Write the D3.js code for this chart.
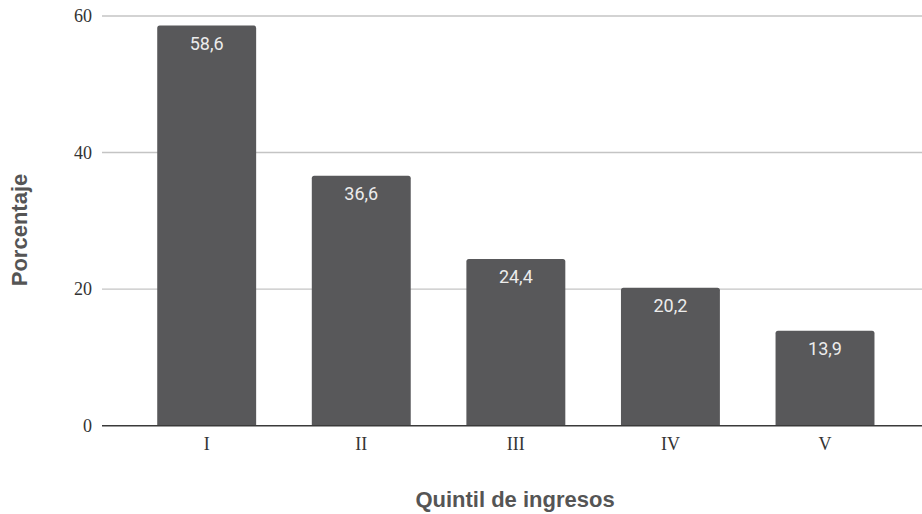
<!DOCTYPE html>
<html>
<head>
<meta charset="utf-8">
<script src="https://cdn.jsdelivr.net/npm/d3@7"></script>
<style>
  html, body { margin: 0; padding: 0; background: #fff; }
  svg { display: block; }
</style>
</head>
<body>
<svg id="chart" width="922" height="514"></svg>
<script>
// Porcentaje por quintil de ingresos
const quintiles = ["I", "II", "III", "IV", "V"];
const porcentajes = [58.6, 36.6, 24.4, 20.2, 13.9];
const yTicks = [0, 20, 40, 60];

const svg = d3.select("#chart");

const gridLeft = 102, gridRight = 922;
const x = d3.scaleBand()
  .domain(quintiles)
  .range([129.4, 902.3])
  .paddingInner(0.36)
  .paddingOuter(0.18);

const y = d3.scaleLinear()
  .domain([0, 60])
  .range([425.7, 16]);

const fmt = v => d3.format(".1f")(v).replace(".", ",");

// Horizontal gridlines
svg.append("g")
  .selectAll("line")
  .data(yTicks.filter(t => t !== 0))
  .join("line")
  .attr("x1", gridLeft)
  .attr("x2", gridRight)
  .attr("y1", d => y(d))
  .attr("y2", d => y(d))
  .attr("stroke", "#c4c4c4")
  .attr("stroke-width", 1.4);

// Y axis tick labels
const yAxis = d3.axisLeft(y).tickValues(yTicks).tickSize(0).tickPadding(10);
const gy = svg.append("g")
  .attr("transform", `translate(${gridLeft},0)`)
  .call(yAxis);
gy.select(".domain").remove();
gy.selectAll("text")
  .attr("font-family", "'Liberation Serif', 'DejaVu Serif', serif")
  .attr("font-size", 18)
  .attr("fill", "#333");

// Bars with slightly rounded top corners
const r = 2.5;
const rows = quintiles.map((q, i) => ({ q, v: porcentajes[i] }));
svg.append("g")
  .selectAll("path")
  .data(rows)
  .join("path")
  .attr("d", d => {
    const x0 = x(d.q), x1 = x0 + x.bandwidth();
    const y0 = y(0), y1 = y(d.v);
    return `M${x0},${y0}V${y1 + r}Q${x0},${y1} ${x0 + r},${y1}H${x1 - r}Q${x1},${y1} ${x1},${y1 + r}V${y0}Z`;
  })
  .attr("fill", "#58585a");

// Value labels inside bars
svg.append("g")
  .selectAll("text")
  .data(rows)
  .join("text")
  .attr("x", d => x(d.q) + x.bandwidth() / 2)
  .attr("y", d => y(d.v) + 24)
  .attr("text-anchor", "middle")
  .attr("font-family", "Roboto, 'Liberation Sans', Arial, sans-serif")
  .attr("font-size", 18)
  .attr("fill", "#ececec")
  .text(d => fmt(d.v));

// Baseline
svg.append("line")
  .attr("x1", gridLeft)
  .attr("x2", gridRight)
  .attr("y1", y(0))
  .attr("y2", y(0))
  .attr("stroke", "#3a3a3a")
  .attr("stroke-width", 1.6);

// X axis tick labels
const xAxis = d3.axisBottom(x).tickSize(0).tickPadding(12);
const gx = svg.append("g")
  .attr("transform", `translate(0,${y(0)})`)
  .call(xAxis);
gx.select(".domain").remove();
gx.selectAll("text")
  .attr("font-family", "'Liberation Serif', 'DejaVu Serif', serif")
  .attr("font-size", 18)
  .attr("fill", "#333");

// Axis titles
svg.append("text")
  .attr("transform", "translate(27,230) rotate(-90)")
  .attr("text-anchor", "middle")
  .attr("font-family", "'Liberation Sans', Arial, sans-serif")
  .attr("font-weight", "bold")
  .attr("font-size", 22)
  .attr("fill", "#555")
  .text("Porcentaje");

svg.append("text")
  .attr("x", 515)
  .attr("y", 507)
  .attr("text-anchor", "middle")
  .attr("font-family", "'Liberation Sans', Arial, sans-serif")
  .attr("font-weight", "bold")
  .attr("font-size", 22)
  .attr("fill", "#555")
  .text("Quintil de ingresos");
</script>
</body>
</html>
